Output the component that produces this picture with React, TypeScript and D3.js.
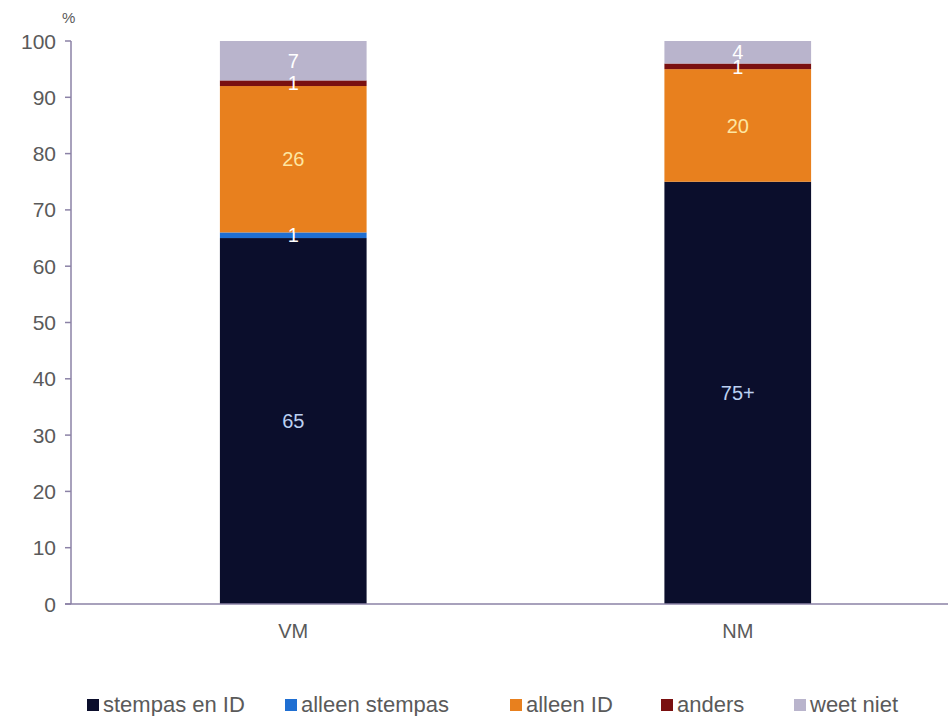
import React from "react";
import * as d3 from "d3";

const categories = ["VM", "NM"];
const seriesNames = ["stempas en ID", "alleen stempas", "alleen ID", "anders", "weet niet"];
const stempasEnID = [65, 75];
const alleenStempas = [1, 0];
const alleenID = [26, 20];
const anders = [1, 1];
const weetNiet = [7, 4];
const labelsStempasEnID = ["65", "75+"];
const labelsAlleenStempas = ["1", ""];
const labelsAlleenID = ["26", "20"];
const labelsAnders = ["1", "1"];
const labelsWeetNiet = ["7", "4"];
const yTicks = [0, 10, 20, 30, 40, 50, 60, 70, 80, 90, 100];

const colors = ["#0b0e2c", "#1f6fd2", "#e8801e", "#7a1010", "#b9b4cc"];
const labelColors = ["#bcd0f2", "#ffffff", "#fde6a2", "#ffffff", "#ffffff"];

export default function App() {
  const W = 948, H = 716;
  const left = 71, right = 960, top = 41, bottom = 604;
  const x = d3.scaleBand().domain(categories).range([left, right]).paddingInner(0.67).paddingOuter(0.335);
  const y = d3.scaleLinear().domain([0, 100]).range([bottom, top]);
  const values = [stempasEnID, alleenStempas, alleenID, anders, weetNiet];
  const labels = [labelsStempasEnID, labelsAlleenStempas, labelsAlleenID, labelsAnders, labelsWeetNiet];
  const table = categories.map((c, i) => {
    const o: any = { cat: c };
    seriesNames.forEach((s, j) => (o[s] = values[j][i]));
    return o;
  });
  const stack = d3.stack().keys(seriesNames)(table as any);
  const font = "'Liberation Sans', Arial, sans-serif";
  const axisColor = "#8b82a6";
  const textColor = "#5a5a5a";
  const legendX = [87, 285, 510, 661, 794];
  return (
    <svg width={W} height={H} style={{ position: "absolute", left: 0, top: 0, background: "#fff" }} fontFamily={font}>
      {stack.map((layer, j) => (
        <g key={j}>
          {layer.map((d, i) => (
            <rect key={i} x={x(categories[i])} width={x.bandwidth()} y={y(d[1])} height={Math.max(0, y(d[0]) - y(d[1]))} fill={colors[j]} />
          ))}
        </g>
      ))}
      {/* axes */}
      <line x1={left} x2={left} y1={top} y2={bottom} stroke={axisColor} strokeWidth={1.5} />
      <line x1={left - 6} x2={W} y1={bottom} y2={bottom} stroke={axisColor} strokeWidth={1.5} />
      {yTicks.map((t) => (
        <g key={t}>
          <line x1={left - 6} x2={left} y1={y(t)} y2={y(t)} stroke={axisColor} strokeWidth={1.5} />
          <text x={left - 15} y={y(t)} dy="0.36em" textAnchor="end" fontSize={21} fill={textColor}>{t}</text>
        </g>
      ))}
      <text x={62} y={23} fontSize={15} fill={textColor}>%</text>
      {categories.map((c) => (
        <text key={c} x={(x(c) as number) + x.bandwidth() / 2} y={638} textAnchor="middle" fontSize={20} fill={textColor}>{c}</text>
      ))}
      {/* value labels */}
      {stack.map((layer, j) => (
        <g key={"l" + j}>
          {layer.map((d, i) =>
            labels[j][i] ? (
              <text key={i} x={(x(categories[i]) as number) + x.bandwidth() / 2} y={(y(d[0]) + y(d[1])) / 2} dy="0.36em" textAnchor="middle" fontSize={20} fill={labelColors[j]}>
                {labels[j][i]}
              </text>
            ) : null
          )}
        </g>
      ))}
      {/* legend */}
      {seriesNames.map((s, j) => (
        <g key={"lg" + j} transform={`translate(${legendX[j]},712)`}>
          <rect x={0} y={-13} width={12} height={12} fill={colors[j]} />
          <text x={16} y={0} fontSize={22} fill={textColor}>{s}</text>
        </g>
      ))}
    </svg>
  );
}
